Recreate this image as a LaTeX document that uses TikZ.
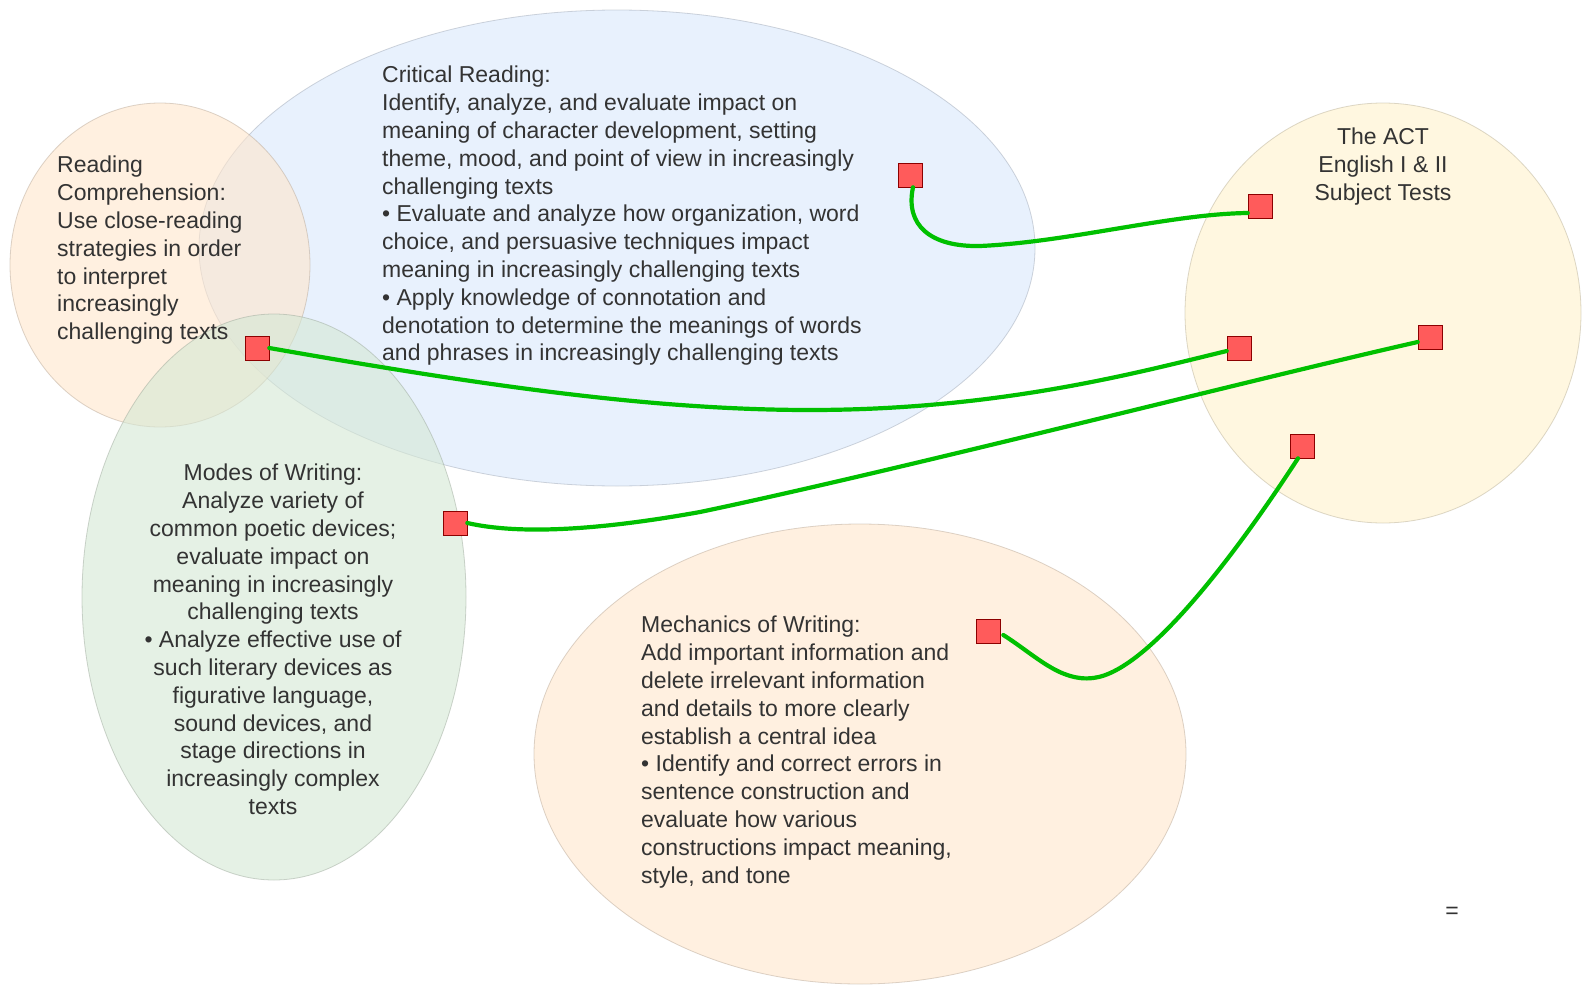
\documentclass[tikz,border=0pt]{standalone}
\usepackage{fontspec}
\setmainfont{Liberation Sans}
\begin{document}
\begin{tikzpicture}[x=1pt,y=-1pt,
  blob/.style={draw=#1!70!black, line width=0.8pt, fill=#1, fill opacity=0.6, draw opacity=0.45},
  txt/.style={inner sep=0pt, text=black!80, font=\fontsize{23}{27.8}\selectfont},
  sq/.style={draw=red!55!black, line width=0.6pt, fill=sqfill, minimum size=24pt, inner sep=0pt},
  link/.style={draw=linkgreen, line width=4.2pt, line cap=round}]
\definecolor{cblue}{HTML}{DAE8FC}
\definecolor{corange}{HTML}{FFE6CC}
\definecolor{cgreen}{HTML}{D5E8D4}
\definecolor{cyellow}{HTML}{FFF2CC}
\definecolor{sqfill}{HTML}{FF5B5B}
\definecolor{linkgreen}{HTML}{00C000}
\useasboundingbox (0,0) rectangle (1587,985);
\fill[white] (0,0) rectangle (1587,985);
% ellipses
\draw[blob=cblue] (617,248) ellipse [x radius=418, y radius=238];
\draw[blob=corange] (160,265) ellipse [x radius=150, y radius=162];
\draw[blob=cgreen] (274,597) ellipse [x radius=192, y radius=283];
\draw[blob=corange] (860,754) ellipse [x radius=326, y radius=230];
\draw[blob=cyellow] (1383,313) ellipse [x radius=198, y radius=210];
% texts
\node[txt, anchor=north west, align=left] (crt) at (382,66) {Critical Reading:\\Identify, analyze, and evaluate impact on\\meaning of character development, setting\\theme, mood, and point of view in increasingly\\challenging texts\\• Evaluate and analyze how organization, word\\choice, and persuasive techniques impact\\meaning in increasingly challenging texts\\• Apply knowledge of connotation and\\denotation to determine the meanings of words\\and phrases in increasingly challenging texts};
\node[txt, anchor=north west, align=left] (rct) at (57,156) {Reading\\Comprehension:\\Use close-reading\\strategies in order\\to interpret\\increasingly\\challenging texts};
\node[txt, anchor=north, align=center] (mwt) at (273,464) {Modes of Writing:\\Analyze variety of\\common poetic devices;\\evaluate impact on\\meaning in increasingly\\challenging texts\\• Analyze effective use of\\such literary devices as\\figurative language,\\sound devices, and\\stage directions in\\increasingly complex\\texts};
\node[txt, anchor=north west, align=left] (mct) at (641,616) {Mechanics of Writing:\\Add important information and\\delete irrelevant information\\and details to more clearly\\establish a central idea\\• Identify and correct errors in\\sentence construction and\\evaluate how various\\constructions impact meaning,\\style, and tone};
\node[txt, anchor=north, align=center] (actt) at (1383,128) {The ACT\\English I \& II\\Subject Tests};
\node[txt] (eq) at (1452,913) {=};
% squares
\node[sq] (s1) at (910,175) {};
\node[sq] (s2) at (257,348) {};
\node[sq] (s3) at (455,523) {};
\node[sq] (s4) at (988,631) {};
\node[sq] (a1) at (1260,206) {};
\node[sq] (a2) at (1239,348) {};
\node[sq] (a3) at (1430,337) {};
\node[sq] (a4) at (1302,446) {};
% links
\coordinate (c1) at (980,246);
\coordinate (c2) at (810,410);
\coordinate (c3) at (700,512);
\coordinate (c4) at (1093,678);
\draw[link] ([xshift=3pt]s1.south) .. controls (905,225) and (930,247) .. (c1) .. controls (1070,242) and (1170,214) .. ([yshift=-7pt]a1.west);
\draw[link] (s2.east) .. controls (480,385) and (650,410) .. (c2) .. controls (1000,410) and (1140,372) .. ([yshift=-3pt]a2.west);
\draw[link] (s3.east) .. controls (520,535) and (600,530) .. (c3) .. controls (900,470) and (1250,380) .. ([yshift=-5pt]a3.west);
\draw[link] ([xshift=3pt,yshift=-4pt]s4.east) .. controls (1035,655) and (1060,682) .. (c4) .. controls (1150,672) and (1245,540) .. ([xshift=-4pt]a4.south);
\end{tikzpicture}
\end{document}
